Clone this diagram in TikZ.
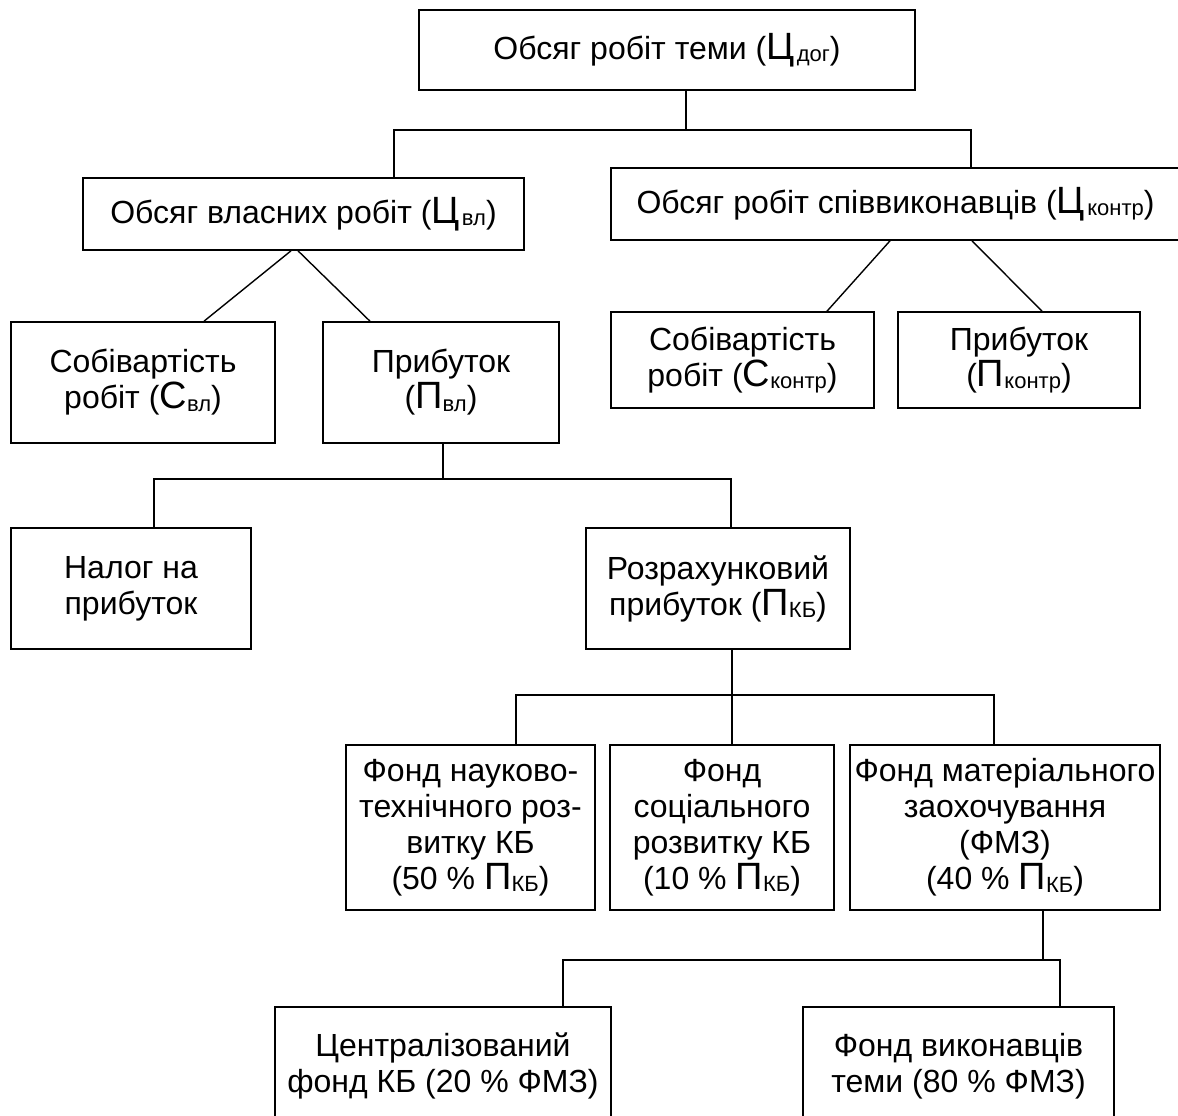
\documentclass[tikz,border=0pt]{standalone}
\usepackage{fontspec}
\setmainfont{Liberation Sans}
\usetikzlibrary{calc}
% quantity symbol: enlarged letter with a lowered index (optional gap before the index)
\newcommand\qty[3][0.1pt]{{\fontsize{19}{18}\selectfont #2}\kern#1\raisebox{-1.3pt}{\fontsize{11}{11}\selectfont #3}}
\begin{document}
\begin{tikzpicture}[x=0.5pt,y=-0.5pt,
  box/.style={draw, line width=0.8pt, align=center, inner sep=0pt,
    font=\fontsize{16}{18}\selectfont},
  link/.style={line width=0.7pt}]
\useasboundingbox (0,0) rectangle (1178,1115);

% boxes
\node[box, minimum width=248pt, minimum height=40pt] (top) at (667,50)
  {Обсяг робіт теми (\qty[1.2pt]{Ц}{дог})};
\node[box, minimum width=220.5pt, minimum height=36pt] (own) at (303.5,214)
  {Обсяг власних робіт (\qty[1.2pt]{Ц}{вл})};
\node[box, minimum width=284.5pt, minimum height=36pt] (contr) at (895.5,204)
  {Обсяг робіт співвиконавців (\qty[1.2pt]{Ц}{контр})};
\node[box, minimum width=132pt, minimum height=60.5pt] (costown) at (143,382.5)
  {Собівартість\\робіт (\qty{С}{вл})};
\node[box, minimum width=118pt, minimum height=60.5pt] (profown) at (441,382.5)
  {Прибуток\\(\qty{П}{вл})};
\node[box, minimum width=131.5pt, minimum height=48pt] (costc) at (742.5,360)
  {Собівартість\\робіт (\qty{С}{контр})};
\node[box, minimum width=121pt, minimum height=48pt] (profc) at (1019,360)
  {Прибуток\\(\qty{П}{контр})};
\node[box, minimum width=120pt, minimum height=60.5pt] (tax) at (131,588.5)
  {Налог на\\прибуток};
\node[box, minimum width=132pt, minimum height=60.5pt] (calc) at (718,588.5)
  {Розрахунковий\\прибуток (\qty{П}{КБ})};
\node[box, minimum width=124.5pt, minimum height=82.5pt] (fund1) at (470.5,827.5)
  {Фонд науково-\\технічного роз-\\витку КБ\\(50 \% \qty{П}{КБ})};
\node[box, minimum width=112pt, minimum height=82.5pt] (fund2) at (722,827.5)
  {Фонд\\соціального\\розвитку КБ\\(10 \% \qty{П}{КБ})};
\node[box, minimum width=155pt, minimum height=82.5pt] (fund3) at (1005,827.5)
  {Фонд матеріального\\заохочування\\(ФМЗ)\\(40 \% \qty{П}{КБ})};
\node[box, minimum width=168pt, minimum height=59pt] (central) at (443,1066)
  {Централізований\\фонд КБ (20 \% ФМЗ)};
\node[box, minimum width=155.5pt, minimum height=59pt] (execs) at (958.5,1066)
  {Фонд виконавців\\теми (80 \% ФМЗ)};

% junction points of the tree
\coordinate (j1) at (686,130);
\coordinate (j1l) at (394,130);
\coordinate (j1r) at (971,130);
\coordinate (j2) at (443,479);
\coordinate (j2l) at (154,479);
\coordinate (j2r) at (731,479);
\coordinate (j3) at (732,695);
\coordinate (j3l) at (516,695);
\coordinate (j3r) at (994,695);
\coordinate (j4) at (1043,960);
\coordinate (j4l) at (563,960);
\coordinate (j4r) at (1060,960);

% level 1
\draw[link] (j1 |- top.south) -- (j1);
\draw[link] (j1l |- own.north) -- (j1l) -- (j1r) -- (j1r |- contr.north);

% diagonal branches
\draw[link] ($(own.south)+(-12.5,0)$) -- ($(costown.north)+(61,0)$);
\draw[link] ($(own.south)+(-5.5,0)$) -- ($(profown.north)+(-71,0)$);
\draw[link] ($(contr.south)+(-5.5,0)$) -- ($(costc.north)+(84.5,0)$);
\draw[link] ($(contr.south)+(76.5,0)$) -- ($(profc.north)+(23,0)$);

% profit split
\draw[link] (j2 |- profown.south) -- (j2);
\draw[link] (j2l |- tax.north) -- (j2l) -- (j2r) -- (j2r |- calc.north);

% funds
\draw[link] (j3 |- calc.south) -- (j3 |- fund2.north);
\draw[link] (j3l |- fund1.north) -- (j3l) -- (j3r) -- (j3r |- fund3.north);

% material incentive fund split
\draw[link] (j4 |- fund3.south) -- (j4);
\draw[link] (j4l |- central.north) -- (j4l) -- (j4r) -- (j4r |- execs.north);
\end{tikzpicture}
\end{document}
